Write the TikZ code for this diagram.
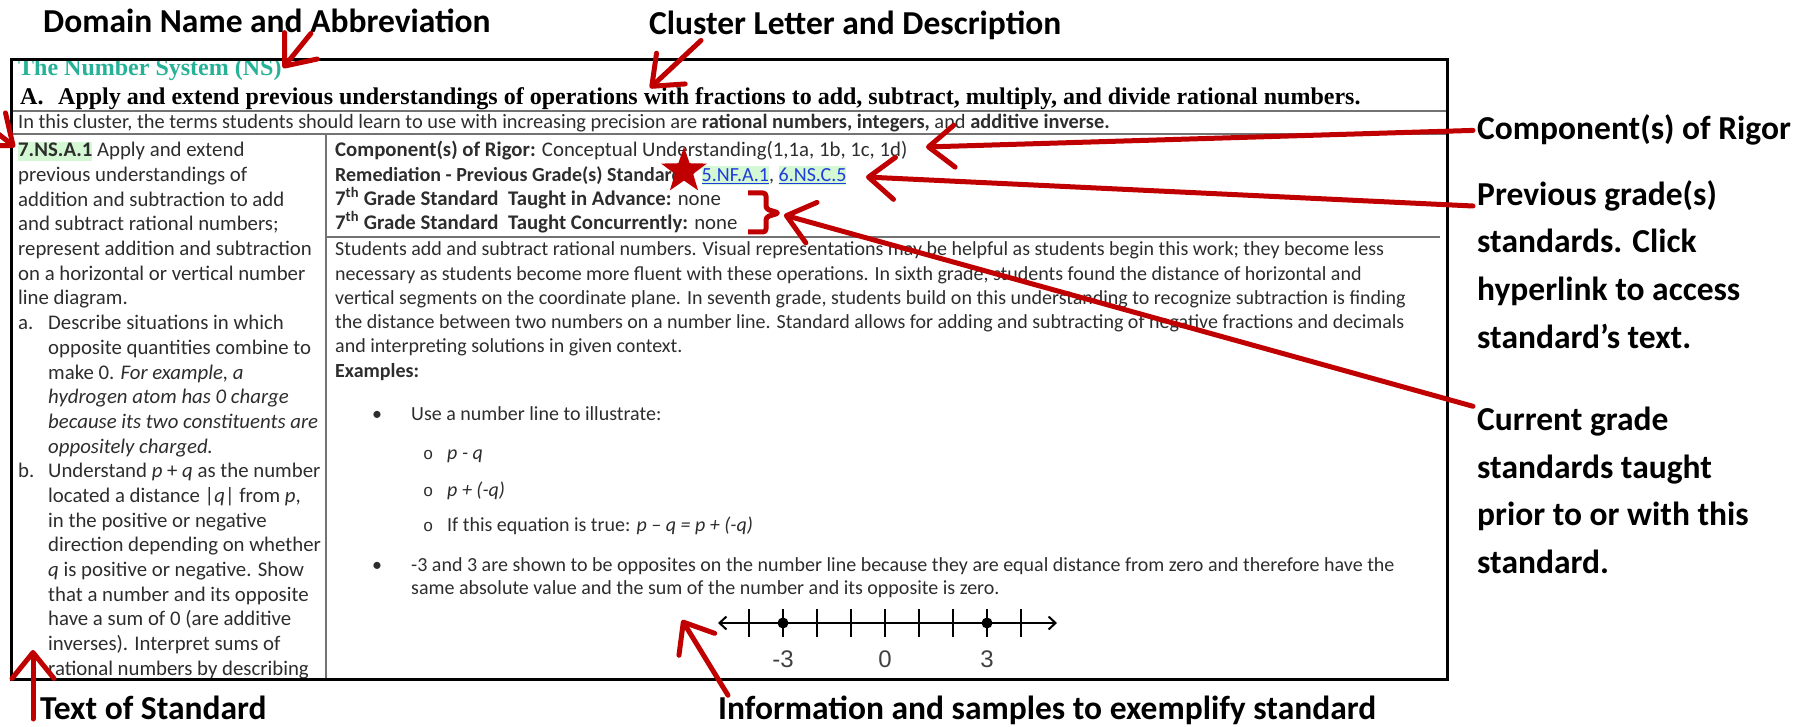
\documentclass[tikz,border=0pt]{standalone}
\usepackage{fontspec}
\setmainfont{Carlito}
\newfontfamily\docserif{Liberation Serif}
\newfontfamily\docsans{Liberation Sans}
\newfontfamily\docmono{Liberation Mono}
\usetikzlibrary{arrows.meta, shapes.geometric}
\definecolor{callred}{RGB}{192,0,0}
\definecolor{domainteal}{RGB}{38,178,150}
\definecolor{hlgreen}{RGB}{212,247,212}
\definecolor{linkblue}{RGB}{30,60,220}
\definecolor{bodytext}{RGB}{45,45,45}
\newcommand{\hlbox}[1]{{\setlength{\fboxsep}{0pt}\colorbox{hlgreen}{\rule[-4pt]{0pt}{19pt}#1}}}
\newcommand{\stdlink}[1]{\hlbox{\textcolor{linkblue}{\underline{#1}}}}
\begin{document}
\begin{tikzpicture}[x=1pt, y=-1pt,
		callout/.style = {draw=callred, line width=5pt, line cap=round, -{Straight Barb[length=26pt, width=42pt, round]}},
		bracket/.style = {draw=callred, line width=5pt, rounded corners=3pt, line join=round},
		lab/.style = {anchor=base west, inner sep=0pt, font=\bfseries\fontsize{33.5}{40}\selectfont},
		body/.style = {anchor=base west, inner sep=0pt, text=bodytext, font=\fontsize{20}{24}\selectfont},
		stdtext/.style = {body, font=\fontsize{20.8}{24}\selectfont},
		heading/.style = {anchor=base west, inner sep=0pt, font=\docserif\bfseries\fontsize{24}{28}\selectfont},
		sep/.style = {draw=black!55, line width=1.6pt},
		numlab/.style = {anchor=base, inner sep=0pt, text=black!75, font=\docsans\fontsize{24}{28}\selectfont}]
	
	\useasboundingbox (0,0) rectangle (1814,727);
	
	% callout labels
	\node[lab] (lblDomain) at (43,33) {Domain Name and Abbreviation};
	\node[lab] (lblCluster) at (649,35) {Cluster Letter and Description};
	\node[lab] (lblRigor) at (1477,140) {Component(s) of Rigor};
	\node[lab] (lblPrevA) at (1477,206) {Previous grade(s)};
	\node[lab] (lblPrevB) at (1477,253) {standards. Click};
	\node[lab] (lblPrevC) at (1477,300) {hyperlink to access};
	\node[lab] (lblPrevD) at (1477,348) {standard’s text.};
	\node[lab] (lblCurA) at (1477,430) {Current grade};
	\node[lab] (lblCurB) at (1477,478) {standards taught};
	\node[lab] (lblCurC) at (1477,525) {prior to or with this};
	\node[lab] (lblCurD) at (1477,573) {standard.};
	\node[lab] (lblText) at (40,719) {Text of Standard};
	\node[lab] (lblInfo) at (718,719) {Information and samples to exemplify standard};
	
	\begin{scope}
		\clip (11.5,60) rectangle (1447,679);
		
		% domain, cluster, terms
		\node[heading, text=domainteal] (domName) at (18,76) {The Number System (NS)};
		\node[heading] (clLetter) at (20,105) {A.};
		\node[heading] (clText) at (58,105) {Apply and extend previous understandings of operations with fractions to add, subtract, multiply, and divide rational numbers.};
		\node[body, font=\fontsize{20.4}{24}\selectfont] (terms) at (18,129) {In this cluster, the terms students should learn to use with increasing precision are \textbf{rational numbers, integers,} and \textbf{additive inverse.}};
		
		% text of standard
		\node[stdtext] (l1) at (18,157) {\hlbox{\textbf{7.NS.A.1}} Apply and extend};
		\node[stdtext] (l2) at (18,181.7) {previous understandings of};
		\node[stdtext] (l3) at (18,206.3) {addition and subtraction to add};
		\node[stdtext] (l4) at (18,231) {and subtract rational numbers;};
		\node[stdtext] (l5) at (18,255.7) {represent addition and subtraction};
		\node[stdtext] (l6) at (18,280.4) {on a horizontal or vertical number};
		\node[stdtext] (l7) at (18,305) {line diagram.};
		\node[stdtext] (la) at (18,329.7) {a.};
		\node[stdtext] (l8) at (48,329.7) {Describe situations in which};
		\node[stdtext] (l9) at (48,354.4) {opposite quantities combine to};
		\node[stdtext] (l10) at (48,379) {make 0. \textit{For example, a}};
		\node[stdtext] (l11) at (48,403.7) {\textit{hydrogen atom has 0 charge}};
		\node[stdtext] (l12) at (48,428.4) {\textit{because its two constituents are}};
		\node[stdtext] (l13) at (48,453) {\textit{oppositely charged.}};
		\node[stdtext] (lb) at (18,477.7) {b.};
		\node[stdtext] (l14) at (48,477.7) {Understand \textit{p} + \textit{q} as the number};
		\node[stdtext] (l15) at (48,502.4) {located a distance |\textit{q}| from \textit{p},};
		\node[stdtext] (l16) at (48,527) {in the positive or negative};
		\node[stdtext] (l17) at (48,551.7) {direction depending on whether};
		\node[stdtext] (l18) at (48,576.4) {\textit{q} is positive or negative. Show};
		\node[stdtext] (l19) at (48,601) {that a number and its opposite};
		\node[stdtext] (l20) at (48,625.7) {have a sum of 0 (are additive};
		\node[stdtext] (l21) at (48,650.4) {inverses). Interpret sums of};
		\node[stdtext] (l22) at (48,675) {rational numbers by describing};
		
		% rigor, remediation, related standards
		\node[stdtext] (rRigor) at (335,157) {\textbf{Component(s) of Rigor:} Conceptual Understanding(1,1a, 1b, 1c, 1d)};
		\node[body] (rRemed) at (335,181.5) {\textbf{Remediation - Previous Grade(s) Standards:} \stdlink{5.NF.A.1}, \stdlink{6.NS.C.5}};
		\node[stdtext] (rAdv) at (335,205.5) {\textbf{7\textsuperscript{th} Grade Standard \ Taught in Advance:} none};
		\node[stdtext] (rCon) at (335,229.5) {\textbf{7\textsuperscript{th} Grade Standard \ Taught Concurrently:} none};
		
		% information and samples
		\node[body] (p1) at (335,255.5) {Students add and subtract rational numbers. Visual representations may be helpful as students begin this work; they become less};
		\node[body] (p2) at (335,280) {necessary as students become more fluent with these operations. In sixth grade, students found the distance of horizontal and};
		\node[body] (p3) at (335,304) {vertical segments on the coordinate plane. In seventh grade, students build on this understanding to recognize subtraction is finding};
		\node[body] (p4) at (335,328) {the distance between two numbers on a number line. Standard allows for adding and subtracting of negative fractions and decimals};
		\node[body] (p5) at (335,352.5) {and interpreting solutions in given context.};
		\node[body] (pEx) at (335,377) {\textbf{Examples:}};
		
		\node[body] (b1dot) at (372,420.6) {\textbullet};
		\node[body] (b1) at (411,420.6) {Use a number line to illustrate:};
		\node[body, font=\docmono\fontsize{17}{20}\selectfont] (s1dot) at (423,459) {o};
		\node[body] (s1) at (447,459) {\textit{p - q}};
		\node[body, font=\docmono\fontsize{17}{20}\selectfont] (s2dot) at (423,496) {o};
		\node[body] (s2) at (447,496) {\textit{p + (-q)}};
		\node[body, font=\docmono\fontsize{17}{20}\selectfont] (s3dot) at (423,531.5) {o};
		\node[body] (s3) at (447,531.5) {If this equation is true: \textit{p – q = p + (-q)}};
		\node[body] (b2dot) at (372,571) {\textbullet};
		\node[body] (b2) at (411,571) {-3 and 3 are shown to be opposites on the number line because they are equal distance from zero and therefore have the};
		\node[body] (b2b) at (411,594.5) {same absolute value and the sum of the number and its opposite is zero.};
		
		% number line
		\coordinate (nlLeft) at (718,623);
		\coordinate (nlRight) at (1057,623);
		\draw[line width=2pt, {Straight Barb[length=7pt, width=13pt]}-{Straight Barb[length=7pt, width=13pt]}] (nlLeft) -- (nlRight);
		\draw[line width=2.6pt] (749,609) -- (749,637);
		\draw[line width=2.6pt] (783,609) -- (783,637);
		\draw[line width=2.6pt] (817,609) -- (817,637);
		\draw[line width=2.6pt] (851,609) -- (851,637);
		\draw[line width=2.6pt] (885,609) -- (885,637);
		\draw[line width=2.6pt] (919,609) -- (919,637);
		\draw[line width=2.6pt] (953,609) -- (953,637);
		\draw[line width=2.6pt] (987,609) -- (987,637);
		\draw[line width=2.6pt] (1021,609) -- (1021,637);
		\fill (783,623) circle (5.5);
		\fill (987,623) circle (5.5);
		\node[numlab] (nlMinus) at (783,667) {-3};
		\node[numlab] (nlZero) at (885,667) {0};
		\node[numlab] (nlPlus) at (987,667) {3};
	\end{scope}
	
	% table rules and frame
	\draw[sep] (11.5,111) -- (1447,111);
	\draw[sep] (11.5,134) -- (1447,134);
	\draw[sep] (326,134) -- (326,679);
	\draw[sep] (326,237) -- (1440,237);
	\draw[line width=3pt] (11.5,60) rectangle (1447,679);
	
	% red marks
	\node[star, star points=5, star point ratio=2.5, fill=callred, minimum size=48pt, inner sep=0pt] (remStar) at (684,171) {};
	\draw[bracket] (748,193) -- (766,193) -- (766,209) -- (779,213) -- (766,217) -- (766,232) -- (748,232);
	
	% red arrows
	\coordinate (domTip) at (283,68);
	\coordinate (clTip) at (650,88);
	\coordinate (stdFrom) at (-45,100);
	\coordinate (stdTip) at (15,147);
	\coordinate (rigorTip) at (926,147);
	\coordinate (prevTip) at (866,177);
	\coordinate (curTip) at (784,215);
	\coordinate (textTip) at (33,650);
	\coordinate (infoTip) at (682,620);
	
	\draw[callout] ([xshift=44pt]lblDomain.south) -- (domTip);
	\draw[callout] ([xshift=52pt]lblCluster.south west) -- (clTip);
	\draw[callout] (stdFrom) -- (stdTip);
	\draw[callout] ([xshift=-4pt]lblRigor.west) -- (rigorTip);
	\draw[callout] ([xshift=-4pt]lblPrevA.base west) -- (prevTip);
	\draw[callout] ([xshift=-4pt]lblCurA.north west) -- (curTip);
	\draw[callout] ([xshift=-7pt]lblText.base west) -- (textTip);
	\draw[callout] ([xshift=10pt]lblInfo.north west) -- (infoTip);
	
\end{tikzpicture}
\end{document}
